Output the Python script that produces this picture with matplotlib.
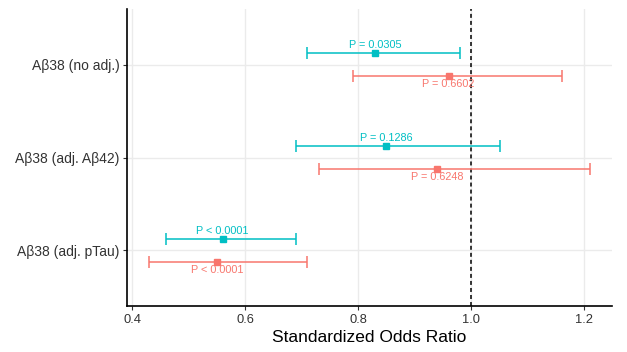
import matplotlib
matplotlib.use("Agg")
import matplotlib.pyplot as plt
import numpy as np

plt.rcParams['font.family'] = ['Liberation Sans', 'DejaVu Sans']

categories = ["Aβ38 (no adj.)", "Aβ38 (adj. Aβ42)", "Aβ38 (adj. pTau)"]

# upper (teal) series
teal_or = [0.83, 0.85, 0.56]
teal_lo = [0.71, 0.69, 0.46]
teal_hi = [0.98, 1.05, 0.69]
teal_p = ["P = 0.0305", "P = 0.1286", "P < 0.0001"]

# lower (salmon) series
red_or = [0.96, 0.94, 0.55]
red_lo = [0.79, 0.73, 0.43]
red_hi = [1.16, 1.21, 0.71]
red_p = ["P = 0.6602", "P = 0.6248", "P < 0.0001"]

xticks = [0.4, 0.6, 0.8, 1.0, 1.2]

TEAL = "#00BFC4"
RED = "#F8766D"

fig = plt.figure(figsize=(6.27, 3.52), dpi=100)
ax = fig.add_axes([127/627, 46/352, (612-127)/627, (306-9)/352])

n = len(categories)
ypos = np.arange(n, 0, -1).astype(float)
dodge = 0.125

for vals, lo, hi, labels, col, sign, off in [
    (teal_or, teal_lo, teal_hi, teal_p, TEAL, 1, 5.8),
    (red_or, red_lo, red_hi, red_p, RED, -1, -5.5),
]:
    yy = ypos + sign * dodge
    vals = np.array(vals); lo = np.array(lo); hi = np.array(hi)
    ax.errorbar(vals, yy, xerr=[vals - lo, hi - vals], fmt='s', color=col,
                ecolor=col, elinewidth=1.1, capsize=4.0, capthick=1.1,
                markersize=4.3, zorder=4)
    for v, y, t in zip(vals, yy, labels):
        ax.annotate(t, (v, y), xytext=(0, off), textcoords='offset points',
                    ha='center', va='center', fontsize=7.8, color=col, zorder=5)

ax.axvline(1.0, color='black', linestyle=(0, (2.6, 2.0)), linewidth=1.1, zorder=3)

ax.set_xlim(0.391, 1.249)
ax.set_ylim(0.4, n + 0.6)
ax.set_xticks(xticks)
ax.set_xticklabels([f"{v:.1f}" for v in xticks])
ax.set_yticks(ypos)
ax.set_yticklabels(categories)

ax.grid(True, color='#EBEBEB', linewidth=1.0, zorder=0)
ax.set_axisbelow(True)

for s in ['top', 'right']:
    ax.spines[s].set_visible(False)
for s in ['left', 'bottom']:
    ax.spines[s].set_linewidth(1.2)
    ax.spines[s].set_color('black')

ax.tick_params(axis='both', labelcolor='#333333', color='#333333',
               length=3, width=0.8, pad=2.5)
ax.tick_params(axis='x', labelsize=9.3)
ax.tick_params(axis='y', labelsize=10.0)

ax.set_xlabel("Standardized Odds Ratio", fontsize=12.5, color='black', labelpad=3)

fig.savefig("out.png", dpi=100)
